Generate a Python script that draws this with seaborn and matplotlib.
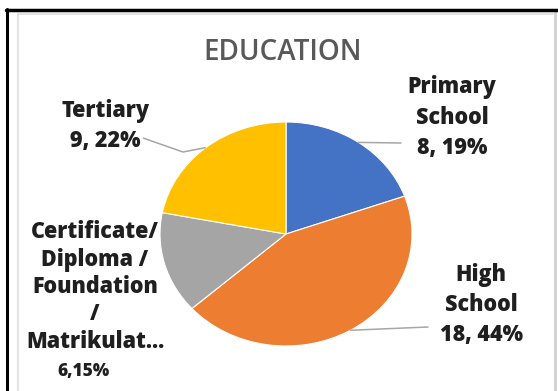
import numpy as np
import matplotlib
matplotlib.use("Agg")
import matplotlib.pyplot as plt
from matplotlib.lines import Line2D
import seaborn as sns

# ---- data ----
categories = ["Primary School", "High School",
              "Certificate/ Diploma / Foundation / Matrikulat...", "Tertiary"]
label_lines = [["Primary", "School"], ["High", "School"],
               ["Certificate/", "Diploma /", "Foundation", "/", "Matrikulat..."],
               ["Tertiary"]]
values = [8, 18, 6, 9]
percents = [19, 44, 15, 22]
value_labels = ["8, 19%", "18, 44%", "6,15%", "9, 22%"]
colors = ["#4472C4", "#ED7D31", "#A5A5A5", "#FFC000"]
title = "EDUCATION"

sns.set_theme(style="white")
plt.rcParams["font.family"] = ["Open Sans", "DejaVu Sans"]

W, H = 558, 391
fig = plt.figure(figsize=(W / 100, H / 100), dpi=100)
fig.patch.set_facecolor("white")
ax = fig.add_axes([0, 0, 1, 1])

# pie geometry in pixels (ellipse because reference is stretched)
cx, cy, rx, ry = 286, 234, 126, 112

wedges, _ = ax.pie(values, colors=colors, startangle=90, counterclock=False,
                   radius=1, center=(0, 0),
                   wedgeprops=dict(edgecolor="white", linewidth=0.8))
ax.set_aspect("auto")
ax.set_xlim(-cx / rx, (W - cx) / rx)
ax.set_ylim(-(H - cy) / ry, cy / ry)
ax.axis("off")


def px(x, y):
    return ((x - cx) / rx, (cy - y) / ry)


txt_color = "#1F1F1F"
fs = 15.5
fw = 800
# label layouts: (x center, y of first line, line step)
layouts = {
    0: (452, 87, 30.5),
    1: (481, 275, 30),
    2: (95, 232, 27.5),
    3: (105, 111, 30),
}
for i, lines in enumerate(label_lines):
    x0, y0, step = layouts[i]
    for k, ln in enumerate(lines):
        tx, ty = px(x0, y0 + k * step)
        ax.text(tx, ty, ln, ha="center", va="center", fontsize=fs,
                fontweight=fw, color=txt_color)
    ky = y0 + len(lines) * step
    if i == 2:
        tx, ty = px(84, 371)
        ax.text(tx, ty, value_labels[i], ha="center", va="center",
                fontsize=12.5, fontweight=fw, color=txt_color)
    else:
        tx, ty = px(x0, ky)
        ax.text(tx, ty, value_labels[i], ha="center", va="center", fontsize=fs,
                fontweight=fw, color=txt_color)

# leader lines from wedge mid-angle to labels
line_color = "#A6A6A6"
leader_ends = {0: (401, 143), 1: (428, 327), 3: (143, 138)}
for i, (ex, ey) in leader_ends.items():
    w = wedges[i]
    mid = np.deg2rad((w.theta1 + w.theta2) / 2)
    sx, sy = np.cos(mid), np.sin(mid)
    exd, eyd = px(ex, ey)
    if i == 3:
        kx, ky = px(183, 152)
        ax.plot([sx, kx, exd], [sy, ky, eyd], color=line_color, lw=1.1,
                solid_capstyle="butt")
    else:
        ax.plot([sx, exd], [sy, eyd], color=line_color, lw=1.1)

# title
tx, ty = px(283, 52)
ax.text(tx, ty, title, ha="center", va="center", fontsize=20,
        fontweight=600, color="#595959")

# frame
def fl(xs, ys, **kw):
    fig.add_artist(Line2D([x / W for x in xs], [1 - y / H for y in ys],
                          transform=fig.transFigure, **kw))

fl([18, 553], [14, 14], color="#E3E3E3", lw=1.5)
fl([18, 18], [14, 391], color="#E3E3E3", lw=1.5)
fl([555, 555], [12, 391], color="#D0D0D0", lw=2)
fl([6, 558], [10, 10], color="black", lw=2.5)
fl([7, 7], [9, 391], color="black", lw=2.2)

fig.savefig("out.png", dpi=100, facecolor="white")
